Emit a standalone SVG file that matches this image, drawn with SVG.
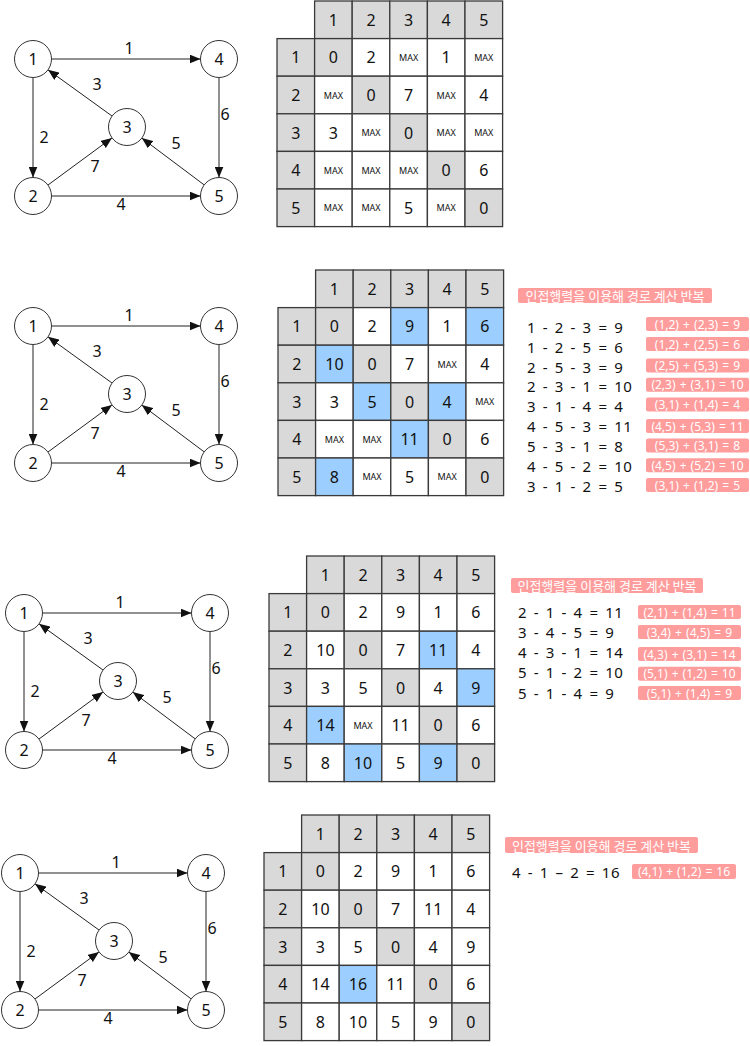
<svg xmlns="http://www.w3.org/2000/svg" xmlns:xlink="http://www.w3.org/1999/xlink" width="750" height="1046" viewBox="0 0 750 1046">
<style>
.bg{fill:#fff}
.g{fill:#d9d9d9;stroke:#3a3a3a;stroke-width:1.3}
.w{fill:#fff;stroke:#3a3a3a;stroke-width:1.3}
.b{fill:#9ccfff;stroke:#3a3a3a;stroke-width:1.3}
.n{font-family:"Noto Sans","Noto Sans CJK KR",sans-serif;font-size:16px;text-anchor:middle;dominant-baseline:central;fill:#111}
.m{font-family:"Noto Sans","Noto Sans CJK KR",sans-serif;font-size:9px;text-anchor:middle;dominant-baseline:central;fill:#111}
.node circle{fill:#fff;stroke:#333;stroke-width:1}
.edge{stroke:#222;stroke-width:1;fill:none;marker-end:url(#arr)}
.el{font-family:"Noto Sans",sans-serif;font-size:16px;text-anchor:middle;dominant-baseline:central;fill:#111}
.hb{fill:#ff9c9c}
.ht{font-family:"Noto Sans CJK KR","Noto Sans",sans-serif;font-size:13px;text-anchor:middle;dominant-baseline:central;fill:#fff}
.eq{font-family:"Noto Sans",sans-serif;font-size:15px;dominant-baseline:central;fill:#111;letter-spacing:0.5px;word-spacing:2.3px}
.pt{font-family:"Noto Sans",sans-serif;font-size:12px;text-anchor:middle;dominant-baseline:central;fill:#fff;word-spacing:1px}
</style>
<defs>
<marker id="arr" markerUnits="userSpaceOnUse" markerWidth="11" markerHeight="9" refX="11" refY="4.5" orient="auto">
<path d="M0,0 L11,4.5 L0,9 z" fill="#111"/>
</marker>
</defs>
<rect class="bg" x="0" y="0" width="750" height="1046"/>

<!-- ================= Graph 1 ================= -->
<g id="graph1" transform="translate(33,59)">
<g id="graph1-edges">
<line class="edge" x1="18.5" y1="0" x2="167.5" y2="0"/>
<line class="edge" x1="0" y1="18.5" x2="0" y2="118.5"/>
<line class="edge" x1="186" y1="18.5" x2="186" y2="118.5"/>
<line class="edge" x1="18.5" y1="137" x2="167.5" y2="137"/>
<line class="edge" x1="79" y1="57" x2="15" y2="10.8"/>
<line class="edge" x1="15" y1="126" x2="79" y2="78.9"/>
<line class="edge" x1="171.2" y1="125.9" x2="108.8" y2="79.1"/>
<text class="el" x="96" y="-11">1</text>
<text class="el" x="64" y="25">3</text>
<text class="el" x="11" y="78">2</text>
<text class="el" x="62" y="107">7</text>
<text class="el" x="88" y="145">4</text>
<text class="el" x="192" y="55">6</text>
<text class="el" x="143" y="84">5</text>
</g>
<g id="graph1-n1" class="node"><circle cx="0" cy="0" r="18.5"/><text class="el" x="0" y="0">1</text></g>
<g id="graph1-n4" class="node"><circle cx="186" cy="0" r="18.5"/><text class="el" x="186" y="0">4</text></g>
<g id="graph1-n3" class="node"><circle cx="94" cy="68" r="18.5"/><text class="el" x="94" y="68">3</text></g>
<g id="graph1-n2" class="node"><circle cx="0" cy="137" r="18.5"/><text class="el" x="0" y="137">2</text></g>
<g id="graph1-n5" class="node"><circle cx="186" cy="137" r="18.5"/><text class="el" x="186" y="137">5</text></g>
</g>

<!-- ================= Graph 2 ================= -->
<g id="graph2" transform="translate(33,326)">
<g id="graph2-edges">
<line class="edge" x1="18.5" y1="0" x2="167.5" y2="0"/>
<line class="edge" x1="0" y1="18.5" x2="0" y2="118.5"/>
<line class="edge" x1="186" y1="18.5" x2="186" y2="118.5"/>
<line class="edge" x1="18.5" y1="137" x2="167.5" y2="137"/>
<line class="edge" x1="79" y1="57" x2="15" y2="10.8"/>
<line class="edge" x1="15" y1="126" x2="79" y2="78.9"/>
<line class="edge" x1="171.2" y1="125.9" x2="108.8" y2="79.1"/>
<text class="el" x="96" y="-11">1</text>
<text class="el" x="64" y="25">3</text>
<text class="el" x="11" y="78">2</text>
<text class="el" x="62" y="107">7</text>
<text class="el" x="88" y="145">4</text>
<text class="el" x="192" y="55">6</text>
<text class="el" x="143" y="84">5</text>
</g>
<g id="graph2-n1" class="node"><circle cx="0" cy="0" r="18.5"/><text class="el" x="0" y="0">1</text></g>
<g id="graph2-n4" class="node"><circle cx="186" cy="0" r="18.5"/><text class="el" x="186" y="0">4</text></g>
<g id="graph2-n3" class="node"><circle cx="94" cy="68" r="18.5"/><text class="el" x="94" y="68">3</text></g>
<g id="graph2-n2" class="node"><circle cx="0" cy="137" r="18.5"/><text class="el" x="0" y="137">2</text></g>
<g id="graph2-n5" class="node"><circle cx="186" cy="137" r="18.5"/><text class="el" x="186" y="137">5</text></g>
</g>

<!-- ================= Graph 3 ================= -->
<g id="graph3" transform="translate(24,613)">
<g id="graph3-edges">
<line class="edge" x1="18.5" y1="0" x2="167.5" y2="0"/>
<line class="edge" x1="0" y1="18.5" x2="0" y2="118.5"/>
<line class="edge" x1="186" y1="18.5" x2="186" y2="118.5"/>
<line class="edge" x1="18.5" y1="137" x2="167.5" y2="137"/>
<line class="edge" x1="79" y1="57" x2="15" y2="10.8"/>
<line class="edge" x1="15" y1="126" x2="79" y2="78.9"/>
<line class="edge" x1="171.2" y1="125.9" x2="108.8" y2="79.1"/>
<text class="el" x="96" y="-11">1</text>
<text class="el" x="64" y="25">3</text>
<text class="el" x="11" y="78">2</text>
<text class="el" x="62" y="107">7</text>
<text class="el" x="88" y="145">4</text>
<text class="el" x="192" y="55">6</text>
<text class="el" x="143" y="84">5</text>
</g>
<g id="graph3-n1" class="node"><circle cx="0" cy="0" r="18.5"/><text class="el" x="0" y="0">1</text></g>
<g id="graph3-n4" class="node"><circle cx="186" cy="0" r="18.5"/><text class="el" x="186" y="0">4</text></g>
<g id="graph3-n3" class="node"><circle cx="94" cy="68" r="18.5"/><text class="el" x="94" y="68">3</text></g>
<g id="graph3-n2" class="node"><circle cx="0" cy="137" r="18.5"/><text class="el" x="0" y="137">2</text></g>
<g id="graph3-n5" class="node"><circle cx="186" cy="137" r="18.5"/><text class="el" x="186" y="137">5</text></g>
</g>

<!-- ================= Graph 4 ================= -->
<g id="graph4" transform="translate(20,873)">
<g id="graph4-edges">
<line class="edge" x1="18.5" y1="0" x2="167.5" y2="0"/>
<line class="edge" x1="0" y1="18.5" x2="0" y2="118.5"/>
<line class="edge" x1="186" y1="18.5" x2="186" y2="118.5"/>
<line class="edge" x1="18.5" y1="137" x2="167.5" y2="137"/>
<line class="edge" x1="79" y1="57" x2="15" y2="10.8"/>
<line class="edge" x1="15" y1="126" x2="79" y2="78.9"/>
<line class="edge" x1="171.2" y1="125.9" x2="108.8" y2="79.1"/>
<text class="el" x="96" y="-11">1</text>
<text class="el" x="64" y="25">3</text>
<text class="el" x="11" y="78">2</text>
<text class="el" x="62" y="107">7</text>
<text class="el" x="88" y="145">4</text>
<text class="el" x="192" y="55">6</text>
<text class="el" x="143" y="84">5</text>
</g>
<g id="graph4-n1" class="node"><circle cx="0" cy="0" r="18.5"/><text class="el" x="0" y="0">1</text></g>
<g id="graph4-n4" class="node"><circle cx="186" cy="0" r="18.5"/><text class="el" x="186" y="0">4</text></g>
<g id="graph4-n3" class="node"><circle cx="94" cy="68" r="18.5"/><text class="el" x="94" y="68">3</text></g>
<g id="graph4-n2" class="node"><circle cx="0" cy="137" r="18.5"/><text class="el" x="0" y="137">2</text></g>
<g id="graph4-n5" class="node"><circle cx="186" cy="137" r="18.5"/><text class="el" x="186" y="137">5</text></g>
</g>

<!-- ================= Table 1 ================= -->
<g id="table1" transform="translate(277,1)">
<rect class="g" x="37.6" y="0" width="37.6" height="37.6"/><text class="n" x="56.4" y="18.8">1</text>
<rect class="g" x="75.2" y="0" width="37.6" height="37.6"/><text class="n" x="94" y="18.8">2</text>
<rect class="g" x="112.8" y="0" width="37.6" height="37.6"/><text class="n" x="131.6" y="18.8">3</text>
<rect class="g" x="150.4" y="0" width="37.6" height="37.6"/><text class="n" x="169.2" y="18.8">4</text>
<rect class="g" x="188" y="0" width="37.6" height="37.6"/><text class="n" x="206.8" y="18.8">5</text>
<rect class="g" x="0" y="37.6" width="37.6" height="37.6"/><text class="n" x="18.8" y="56.4">1</text>
<rect class="g" x="37.6" y="37.6" width="37.6" height="37.6"/><text class="n" x="56.4" y="56.4">0</text>
<rect class="w" x="75.2" y="37.6" width="37.6" height="37.6"/><text class="n" x="94" y="56.4">2</text>
<rect class="w" x="112.8" y="37.6" width="37.6" height="37.6"/><text class="m" x="131.6" y="56.4">MAX</text>
<rect class="w" x="150.4" y="37.6" width="37.6" height="37.6"/><text class="n" x="169.2" y="56.4">1</text>
<rect class="w" x="188" y="37.6" width="37.6" height="37.6"/><text class="m" x="206.8" y="56.4">MAX</text>
<rect class="g" x="0" y="75.2" width="37.6" height="37.6"/><text class="n" x="18.8" y="94">2</text>
<rect class="w" x="37.6" y="75.2" width="37.6" height="37.6"/><text class="m" x="56.4" y="94">MAX</text>
<rect class="g" x="75.2" y="75.2" width="37.6" height="37.6"/><text class="n" x="94" y="94">0</text>
<rect class="w" x="112.8" y="75.2" width="37.6" height="37.6"/><text class="n" x="131.6" y="94">7</text>
<rect class="w" x="150.4" y="75.2" width="37.6" height="37.6"/><text class="m" x="169.2" y="94">MAX</text>
<rect class="w" x="188" y="75.2" width="37.6" height="37.6"/><text class="n" x="206.8" y="94">4</text>
<rect class="g" x="0" y="112.8" width="37.6" height="37.6"/><text class="n" x="18.8" y="131.6">3</text>
<rect class="w" x="37.6" y="112.8" width="37.6" height="37.6"/><text class="n" x="56.4" y="131.6">3</text>
<rect class="w" x="75.2" y="112.8" width="37.6" height="37.6"/><text class="m" x="94" y="131.6">MAX</text>
<rect class="g" x="112.8" y="112.8" width="37.6" height="37.6"/><text class="n" x="131.6" y="131.6">0</text>
<rect class="w" x="150.4" y="112.8" width="37.6" height="37.6"/><text class="m" x="169.2" y="131.6">MAX</text>
<rect class="w" x="188" y="112.8" width="37.6" height="37.6"/><text class="m" x="206.8" y="131.6">MAX</text>
<rect class="g" x="0" y="150.4" width="37.6" height="37.6"/><text class="n" x="18.8" y="169.2">4</text>
<rect class="w" x="37.6" y="150.4" width="37.6" height="37.6"/><text class="m" x="56.4" y="169.2">MAX</text>
<rect class="w" x="75.2" y="150.4" width="37.6" height="37.6"/><text class="m" x="94" y="169.2">MAX</text>
<rect class="w" x="112.8" y="150.4" width="37.6" height="37.6"/><text class="m" x="131.6" y="169.2">MAX</text>
<rect class="g" x="150.4" y="150.4" width="37.6" height="37.6"/><text class="n" x="169.2" y="169.2">0</text>
<rect class="w" x="188" y="150.4" width="37.6" height="37.6"/><text class="n" x="206.8" y="169.2">6</text>
<rect class="g" x="0" y="188" width="37.6" height="37.6"/><text class="n" x="18.8" y="206.8">5</text>
<rect class="w" x="37.6" y="188" width="37.6" height="37.6"/><text class="m" x="56.4" y="206.8">MAX</text>
<rect class="w" x="75.2" y="188" width="37.6" height="37.6"/><text class="m" x="94" y="206.8">MAX</text>
<rect class="w" x="112.8" y="188" width="37.6" height="37.6"/><text class="n" x="131.6" y="206.8">5</text>
<rect class="w" x="150.4" y="188" width="37.6" height="37.6"/><text class="m" x="169.2" y="206.8">MAX</text>
<rect class="g" x="188" y="188" width="37.6" height="37.6"/><text class="n" x="206.8" y="206.8">0</text>
</g>

<!-- ================= Table 2 ================= -->
<g id="table2" transform="translate(278,270)">
<rect class="g" x="37.6" y="0" width="37.6" height="37.6"/><text class="n" x="56.4" y="18.8">1</text>
<rect class="g" x="75.2" y="0" width="37.6" height="37.6"/><text class="n" x="94" y="18.8">2</text>
<rect class="g" x="112.8" y="0" width="37.6" height="37.6"/><text class="n" x="131.6" y="18.8">3</text>
<rect class="g" x="150.4" y="0" width="37.6" height="37.6"/><text class="n" x="169.2" y="18.8">4</text>
<rect class="g" x="188" y="0" width="37.6" height="37.6"/><text class="n" x="206.8" y="18.8">5</text>
<rect class="g" x="0" y="37.6" width="37.6" height="37.6"/><text class="n" x="18.8" y="56.4">1</text>
<rect class="g" x="37.6" y="37.6" width="37.6" height="37.6"/><text class="n" x="56.4" y="56.4">0</text>
<rect class="w" x="75.2" y="37.6" width="37.6" height="37.6"/><text class="n" x="94" y="56.4">2</text>
<rect class="b" x="112.8" y="37.6" width="37.6" height="37.6"/><text class="n" x="131.6" y="56.4">9</text>
<rect class="w" x="150.4" y="37.6" width="37.6" height="37.6"/><text class="n" x="169.2" y="56.4">1</text>
<rect class="b" x="188" y="37.6" width="37.6" height="37.6"/><text class="n" x="206.8" y="56.4">6</text>
<rect class="g" x="0" y="75.2" width="37.6" height="37.6"/><text class="n" x="18.8" y="94">2</text>
<rect class="b" x="37.6" y="75.2" width="37.6" height="37.6"/><text class="n" x="56.4" y="94">10</text>
<rect class="g" x="75.2" y="75.2" width="37.6" height="37.6"/><text class="n" x="94" y="94">0</text>
<rect class="w" x="112.8" y="75.2" width="37.6" height="37.6"/><text class="n" x="131.6" y="94">7</text>
<rect class="w" x="150.4" y="75.2" width="37.6" height="37.6"/><text class="m" x="169.2" y="94">MAX</text>
<rect class="w" x="188" y="75.2" width="37.6" height="37.6"/><text class="n" x="206.8" y="94">4</text>
<rect class="g" x="0" y="112.8" width="37.6" height="37.6"/><text class="n" x="18.8" y="131.6">3</text>
<rect class="w" x="37.6" y="112.8" width="37.6" height="37.6"/><text class="n" x="56.4" y="131.6">3</text>
<rect class="b" x="75.2" y="112.8" width="37.6" height="37.6"/><text class="n" x="94" y="131.6">5</text>
<rect class="g" x="112.8" y="112.8" width="37.6" height="37.6"/><text class="n" x="131.6" y="131.6">0</text>
<rect class="b" x="150.4" y="112.8" width="37.6" height="37.6"/><text class="n" x="169.2" y="131.6">4</text>
<rect class="w" x="188" y="112.8" width="37.6" height="37.6"/><text class="m" x="206.8" y="131.6">MAX</text>
<rect class="g" x="0" y="150.4" width="37.6" height="37.6"/><text class="n" x="18.8" y="169.2">4</text>
<rect class="w" x="37.6" y="150.4" width="37.6" height="37.6"/><text class="m" x="56.4" y="169.2">MAX</text>
<rect class="w" x="75.2" y="150.4" width="37.6" height="37.6"/><text class="m" x="94" y="169.2">MAX</text>
<rect class="b" x="112.8" y="150.4" width="37.6" height="37.6"/><text class="n" x="131.6" y="169.2">11</text>
<rect class="g" x="150.4" y="150.4" width="37.6" height="37.6"/><text class="n" x="169.2" y="169.2">0</text>
<rect class="w" x="188" y="150.4" width="37.6" height="37.6"/><text class="n" x="206.8" y="169.2">6</text>
<rect class="g" x="0" y="188" width="37.6" height="37.6"/><text class="n" x="18.8" y="206.8">5</text>
<rect class="b" x="37.6" y="188" width="37.6" height="37.6"/><text class="n" x="56.4" y="206.8">8</text>
<rect class="w" x="75.2" y="188" width="37.6" height="37.6"/><text class="m" x="94" y="206.8">MAX</text>
<rect class="w" x="112.8" y="188" width="37.6" height="37.6"/><text class="n" x="131.6" y="206.8">5</text>
<rect class="w" x="150.4" y="188" width="37.6" height="37.6"/><text class="m" x="169.2" y="206.8">MAX</text>
<rect class="g" x="188" y="188" width="37.6" height="37.6"/><text class="n" x="206.8" y="206.8">0</text>
</g>

<!-- ================= Table 3 ================= -->
<g id="table3" transform="translate(269,556)">
<rect class="g" x="37.6" y="0" width="37.6" height="37.6"/><text class="n" x="56.4" y="18.8">1</text>
<rect class="g" x="75.2" y="0" width="37.6" height="37.6"/><text class="n" x="94" y="18.8">2</text>
<rect class="g" x="112.8" y="0" width="37.6" height="37.6"/><text class="n" x="131.6" y="18.8">3</text>
<rect class="g" x="150.4" y="0" width="37.6" height="37.6"/><text class="n" x="169.2" y="18.8">4</text>
<rect class="g" x="188" y="0" width="37.6" height="37.6"/><text class="n" x="206.8" y="18.8">5</text>
<rect class="g" x="0" y="37.6" width="37.6" height="37.6"/><text class="n" x="18.8" y="56.4">1</text>
<rect class="g" x="37.6" y="37.6" width="37.6" height="37.6"/><text class="n" x="56.4" y="56.4">0</text>
<rect class="w" x="75.2" y="37.6" width="37.6" height="37.6"/><text class="n" x="94" y="56.4">2</text>
<rect class="w" x="112.8" y="37.6" width="37.6" height="37.6"/><text class="n" x="131.6" y="56.4">9</text>
<rect class="w" x="150.4" y="37.6" width="37.6" height="37.6"/><text class="n" x="169.2" y="56.4">1</text>
<rect class="w" x="188" y="37.6" width="37.6" height="37.6"/><text class="n" x="206.8" y="56.4">6</text>
<rect class="g" x="0" y="75.2" width="37.6" height="37.6"/><text class="n" x="18.8" y="94">2</text>
<rect class="w" x="37.6" y="75.2" width="37.6" height="37.6"/><text class="n" x="56.4" y="94">10</text>
<rect class="g" x="75.2" y="75.2" width="37.6" height="37.6"/><text class="n" x="94" y="94">0</text>
<rect class="w" x="112.8" y="75.2" width="37.6" height="37.6"/><text class="n" x="131.6" y="94">7</text>
<rect class="b" x="150.4" y="75.2" width="37.6" height="37.6"/><text class="n" x="169.2" y="94">11</text>
<rect class="w" x="188" y="75.2" width="37.6" height="37.6"/><text class="n" x="206.8" y="94">4</text>
<rect class="g" x="0" y="112.8" width="37.6" height="37.6"/><text class="n" x="18.8" y="131.6">3</text>
<rect class="w" x="37.6" y="112.8" width="37.6" height="37.6"/><text class="n" x="56.4" y="131.6">3</text>
<rect class="w" x="75.2" y="112.8" width="37.6" height="37.6"/><text class="n" x="94" y="131.6">5</text>
<rect class="g" x="112.8" y="112.8" width="37.6" height="37.6"/><text class="n" x="131.6" y="131.6">0</text>
<rect class="w" x="150.4" y="112.8" width="37.6" height="37.6"/><text class="n" x="169.2" y="131.6">4</text>
<rect class="b" x="188" y="112.8" width="37.6" height="37.6"/><text class="n" x="206.8" y="131.6">9</text>
<rect class="g" x="0" y="150.4" width="37.6" height="37.6"/><text class="n" x="18.8" y="169.2">4</text>
<rect class="b" x="37.6" y="150.4" width="37.6" height="37.6"/><text class="n" x="56.4" y="169.2">14</text>
<rect class="w" x="75.2" y="150.4" width="37.6" height="37.6"/><text class="m" x="94" y="169.2">MAX</text>
<rect class="w" x="112.8" y="150.4" width="37.6" height="37.6"/><text class="n" x="131.6" y="169.2">11</text>
<rect class="g" x="150.4" y="150.4" width="37.6" height="37.6"/><text class="n" x="169.2" y="169.2">0</text>
<rect class="w" x="188" y="150.4" width="37.6" height="37.6"/><text class="n" x="206.8" y="169.2">6</text>
<rect class="g" x="0" y="188" width="37.6" height="37.6"/><text class="n" x="18.8" y="206.8">5</text>
<rect class="w" x="37.6" y="188" width="37.6" height="37.6"/><text class="n" x="56.4" y="206.8">8</text>
<rect class="b" x="75.2" y="188" width="37.6" height="37.6"/><text class="n" x="94" y="206.8">10</text>
<rect class="w" x="112.8" y="188" width="37.6" height="37.6"/><text class="n" x="131.6" y="206.8">5</text>
<rect class="b" x="150.4" y="188" width="37.6" height="37.6"/><text class="n" x="169.2" y="206.8">9</text>
<rect class="g" x="188" y="188" width="37.6" height="37.6"/><text class="n" x="206.8" y="206.8">0</text>
</g>

<!-- ================= Table 4 ================= -->
<g id="table4" transform="translate(264,815)">
<rect class="g" x="37.6" y="0" width="37.6" height="37.6"/><text class="n" x="56.4" y="18.8">1</text>
<rect class="g" x="75.2" y="0" width="37.6" height="37.6"/><text class="n" x="94" y="18.8">2</text>
<rect class="g" x="112.8" y="0" width="37.6" height="37.6"/><text class="n" x="131.6" y="18.8">3</text>
<rect class="g" x="150.4" y="0" width="37.6" height="37.6"/><text class="n" x="169.2" y="18.8">4</text>
<rect class="g" x="188" y="0" width="37.6" height="37.6"/><text class="n" x="206.8" y="18.8">5</text>
<rect class="g" x="0" y="37.6" width="37.6" height="37.6"/><text class="n" x="18.8" y="56.4">1</text>
<rect class="g" x="37.6" y="37.6" width="37.6" height="37.6"/><text class="n" x="56.4" y="56.4">0</text>
<rect class="w" x="75.2" y="37.6" width="37.6" height="37.6"/><text class="n" x="94" y="56.4">2</text>
<rect class="w" x="112.8" y="37.6" width="37.6" height="37.6"/><text class="n" x="131.6" y="56.4">9</text>
<rect class="w" x="150.4" y="37.6" width="37.6" height="37.6"/><text class="n" x="169.2" y="56.4">1</text>
<rect class="w" x="188" y="37.6" width="37.6" height="37.6"/><text class="n" x="206.8" y="56.4">6</text>
<rect class="g" x="0" y="75.2" width="37.6" height="37.6"/><text class="n" x="18.8" y="94">2</text>
<rect class="w" x="37.6" y="75.2" width="37.6" height="37.6"/><text class="n" x="56.4" y="94">10</text>
<rect class="g" x="75.2" y="75.2" width="37.6" height="37.6"/><text class="n" x="94" y="94">0</text>
<rect class="w" x="112.8" y="75.2" width="37.6" height="37.6"/><text class="n" x="131.6" y="94">7</text>
<rect class="w" x="150.4" y="75.2" width="37.6" height="37.6"/><text class="n" x="169.2" y="94">11</text>
<rect class="w" x="188" y="75.2" width="37.6" height="37.6"/><text class="n" x="206.8" y="94">4</text>
<rect class="g" x="0" y="112.8" width="37.6" height="37.6"/><text class="n" x="18.8" y="131.6">3</text>
<rect class="w" x="37.6" y="112.8" width="37.6" height="37.6"/><text class="n" x="56.4" y="131.6">3</text>
<rect class="w" x="75.2" y="112.8" width="37.6" height="37.6"/><text class="n" x="94" y="131.6">5</text>
<rect class="g" x="112.8" y="112.8" width="37.6" height="37.6"/><text class="n" x="131.6" y="131.6">0</text>
<rect class="w" x="150.4" y="112.8" width="37.6" height="37.6"/><text class="n" x="169.2" y="131.6">4</text>
<rect class="w" x="188" y="112.8" width="37.6" height="37.6"/><text class="n" x="206.8" y="131.6">9</text>
<rect class="g" x="0" y="150.4" width="37.6" height="37.6"/><text class="n" x="18.8" y="169.2">4</text>
<rect class="w" x="37.6" y="150.4" width="37.6" height="37.6"/><text class="n" x="56.4" y="169.2">14</text>
<rect class="b" x="75.2" y="150.4" width="37.6" height="37.6"/><text class="n" x="94" y="169.2">16</text>
<rect class="w" x="112.8" y="150.4" width="37.6" height="37.6"/><text class="n" x="131.6" y="169.2">11</text>
<rect class="g" x="150.4" y="150.4" width="37.6" height="37.6"/><text class="n" x="169.2" y="169.2">0</text>
<rect class="w" x="188" y="150.4" width="37.6" height="37.6"/><text class="n" x="206.8" y="169.2">6</text>
<rect class="g" x="0" y="188" width="37.6" height="37.6"/><text class="n" x="18.8" y="206.8">5</text>
<rect class="w" x="37.6" y="188" width="37.6" height="37.6"/><text class="n" x="56.4" y="206.8">8</text>
<rect class="w" x="75.2" y="188" width="37.6" height="37.6"/><text class="n" x="94" y="206.8">10</text>
<rect class="w" x="112.8" y="188" width="37.6" height="37.6"/><text class="n" x="131.6" y="206.8">5</text>
<rect class="w" x="150.4" y="188" width="37.6" height="37.6"/><text class="n" x="169.2" y="206.8">9</text>
<rect class="g" x="188" y="188" width="37.6" height="37.6"/><text class="n" x="206.8" y="206.8">0</text>
</g>

<!-- ================= Notes 2 ================= -->
<g id="notes2">
<rect class="hb" x="518" y="288" width="194" height="15" rx="2"/>
<text class="ht" x="615" y="295.5">인접행렬을 이용해 경로 계산 반복</text>
<text class="eq" x="527" y="327">1 - 2 - 3 = 9</text>
<text class="eq" x="527" y="347">1 - 2 - 5 = 6</text>
<text class="eq" x="527" y="367">2 - 5 - 3 = 9</text>
<text class="eq" x="527" y="386">2 - 3 - 1 = 10</text>
<text class="eq" x="527" y="406">3 - 1 - 4 = 4</text>
<text class="eq" x="527" y="426">4 - 5 - 3 = 11</text>
<text class="eq" x="527" y="446">5 - 3 - 1 = 8</text>
<text class="eq" x="527" y="466">4 - 5 - 2 = 10</text>
<text class="eq" x="527" y="486">3 - 1 - 2 = 5</text>
<rect class="hb" x="646" y="317" width="103" height="14" rx="2"/><text class="pt" x="697.5" y="324">(1,2) + (2,3) = 9</text>
<rect class="hb" x="646" y="337" width="103" height="14" rx="2"/><text class="pt" x="697.5" y="344">(1,2) + (2,5) = 6</text>
<rect class="hb" x="646" y="358.5" width="103" height="14" rx="2"/><text class="pt" x="697.5" y="365.5">(2,5) + (5,3) = 9</text>
<rect class="hb" x="646" y="377.7" width="103" height="14" rx="2"/><text class="pt" x="697.5" y="384.7">(2,3) + (3,1) = 10</text>
<rect class="hb" x="646" y="397.5" width="103" height="14" rx="2"/><text class="pt" x="697.5" y="404.5">(3,1) + (1,4) = 4</text>
<rect class="hb" x="646" y="419" width="103" height="14" rx="2"/><text class="pt" x="697.5" y="426">(4,5) + (5,3) = 11</text>
<rect class="hb" x="646" y="438.5" width="103" height="14" rx="2"/><text class="pt" x="697.5" y="445.5">(5,3) + (3,1) = 8</text>
<rect class="hb" x="646" y="458.3" width="103" height="14" rx="2"/><text class="pt" x="697.5" y="465.3">(4,5) + (5,2) = 10</text>
<rect class="hb" x="646" y="478" width="103" height="14" rx="2"/><text class="pt" x="697.5" y="485">(3,1) + (1,2) = 5</text>
</g>

<!-- ================= Notes 3 ================= -->
<g id="notes3">
<rect class="hb" x="511" y="578" width="192" height="15" rx="2"/>
<text class="ht" x="607" y="585.5">인접행렬을 이용해 경로 계산 반복</text>
<text class="eq" x="518" y="612">2 - 1 - 4 = 11</text>
<text class="eq" x="518" y="632">3 - 4 - 5 = 9</text>
<text class="eq" x="518" y="652">4 - 3 - 1 = 14</text>
<text class="eq" x="518" y="672">5 - 1 - 2 = 10</text>
<text class="eq" x="518" y="693">5 - 1 - 4 = 9</text>
<rect class="hb" x="638" y="605" width="103" height="14" rx="2"/><text class="pt" x="689.5" y="612">(2,1) + (1,4) = 11</text>
<rect class="hb" x="638" y="625" width="103" height="14" rx="2"/><text class="pt" x="689.5" y="632">(3,4) + (4,5) = 9</text>
<rect class="hb" x="638" y="647" width="103" height="14" rx="2"/><text class="pt" x="689.5" y="654">(4,3) + (3,1) = 14</text>
<rect class="hb" x="638" y="666.7" width="103" height="14" rx="2"/><text class="pt" x="689.5" y="673.7">(5,1) + (1,2) = 10</text>
<rect class="hb" x="638" y="686" width="103" height="14" rx="2"/><text class="pt" x="689.5" y="693">(5,1) + (1,4) = 9</text>
</g>

<!-- ================= Notes 4 ================= -->
<g id="notes4">
<rect class="hb" x="505" y="837" width="193" height="16" rx="2"/>
<text class="ht" x="601.5" y="845">인접행렬을 이용해 경로 계산 반복</text>
<text class="eq" x="512" y="872">4 - 1 – 2 = 16</text>
<rect class="hb" x="632" y="864" width="104" height="15" rx="2"/><text class="pt" x="684" y="871.5">(4,1) + (1,2) = 16</text>
</g>
</svg>
